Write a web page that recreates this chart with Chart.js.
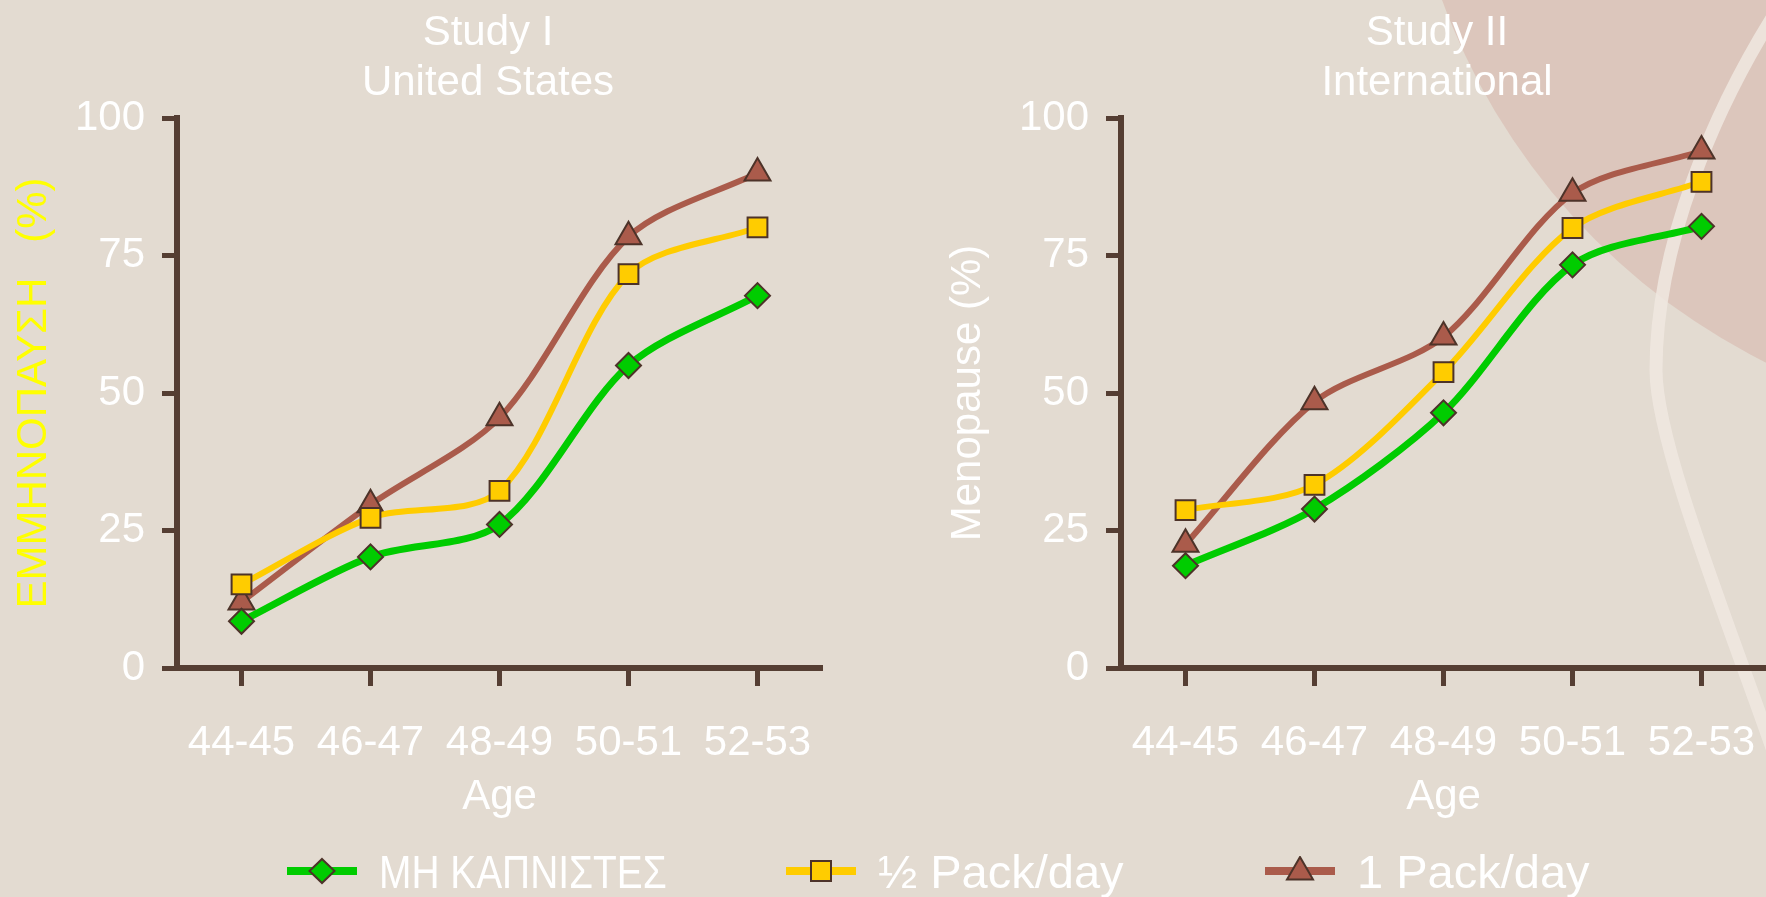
<!DOCTYPE html>
<html>
<head>
<meta charset="utf-8">
<script src="https://cdn.jsdelivr.net/npm/chart.js@4.4.1/dist/chart.umd.min.js"></script>
<style>
  html, body { margin: 0; padding: 0; }
  body {
    width: 1766px; height: 897px; overflow: hidden; position: relative;
    background: #e3dbd1;
    font-family: "Liberation Sans", Arial, sans-serif;
  }
  canvas { position: absolute; top: 0; }
  #bg { left: 0; }
  #chartLeft { left: 0; }
  #chartRight { left: 940px; }
  .title {
    position: absolute; top: 6px; width: 600px;
    color: #fff; font-size: 42px; line-height: 50.4px; text-align: center;
  }
  .item {
    position: absolute; top: 841px; height: 60px;
    display: flex; align-items: center; white-space: nowrap;
  }
  .item span { color: #fff; font-size: 47px; line-height: 1; margin-left: 22px; display: inline-block; }
  /* the greek label is set in a narrow face in the original */
  .item span.greek { transform: scaleX(0.827); transform-origin: left center; }
</style>
</head>
<body>
<canvas id="bg" width="1766" height="897"></canvas>
<canvas id="chartLeft" width="976" height="897"></canvas>
<canvas id="chartRight" width="994" height="897"></canvas>
<div class="title" style="left:188px">Study I<br>United States</div>
<div class="title" style="left:1137px">Study II<br>International</div>
<div id="legend"></div>

<script>
// data

const ages = ['44-45', '46-47', '48-49', '50-51', '52-53'];
const yTicks = [0, 25, 50, 75, 100];
const seriesNames = ['ΜΗ ΚΑΠΝΙΣΤΕΣ', '½ Pack/day', '1 Pack/day'];

// Study I - United States
const usNonSmokers = [8.5, 20.2, 26.1, 55.0, 67.7];
const usHalfPack   = [15.2, 27.3, 32.2, 71.6, 80.1];
const usOnePack    = [12.0, 29.7, 45.5, 78.4, 90.0];

// Study II - International
const intNonSmokers = [18.6, 28.9, 46.4, 73.3, 80.3];
const intHalfPack   = [28.7, 33.3, 53.8, 80.0, 88.4];
const intOnePack    = [22.5, 48.4, 60.2, 86.3, 94.0];

// styles
const colors = ['#00cc00', '#ffcc00', '#aa5b4b'];
const pointStyles = ['rectRot', 'rect', 'triangle'];
const pointSizes = [12.5, 14, 15];
const lineWidths = [7, 6, 6];
const axisColor = '#553e33';
const markerEdge = '#4d3329';

Chart.defaults.font.family = '"Liberation Sans", Arial, sans-serif';
Chart.defaults.color = '#ffffff';

function drawBackground(){
  const ctx = document.getElementById('bg').getContext('2d');
  ctx.fillStyle = '#e3dbd1';
  ctx.fillRect(0, 0, 1766, 897);

  // pink disc in the top right corner
  ctx.fillStyle = '#dcc6bc';
  ctx.beginPath();
  ctx.arc(2060, -226, 658, 0, Math.PI * 2);
  ctx.fill();

  // pale swoosh
  ctx.strokeStyle = 'rgba(240,232,225,0.85)';
  ctx.lineWidth = 13;
  ctx.beginPath();
  ctx.moveTo(1790, -10);
  ctx.bezierCurveTo(1710, 110, 1656, 250, 1656, 370);
  ctx.bezierCurveTo(1656, 450, 1740, 650, 1790, 800);
  ctx.stroke();
}

function makeChart(id, yTitle, yTitleColor, values, box){

  return new Chart(document.getElementById(id), {
    type: 'line',
    data: {
      labels: ages,
      datasets: values.map((vals, i) => ({
        label: seriesNames[i],
        data: vals,
        borderColor: colors[i],
        backgroundColor: colors[i],
        borderWidth: lineWidths[i],
        pointStyle: pointStyles[i],
        pointRadius: pointSizes[i],
        pointHoverRadius: pointSizes[i],
        pointBorderColor: markerEdge,
        pointBorderWidth: 2,
        tension: 0.3,
        fill: false
      }))
    },
    options: {
      responsive: false,
      animation: false,
      layout: {
        padding: { left: 0, right: box.padRight, top: 118, bottom: 67 }
      },
      plugins: {
        legend: { display: false },
        tooltip: { enabled: false },
        title: { display: false }
      },
      scales: {
        x: {
          offset: true,
          grid: {
            drawOnChartArea: false,
            tickLength: 18,
            tickWidth: 5,
            tickColor: axisColor
          },
          border: { color: axisColor, width: 6 },
          ticks: { color: '#ffffff', font: { size: 42 }, padding: 32 },
          title: {
            display: true,
            text: 'Age',
            color: '#ffffff',
            font: { size: 42 },
            padding: { top: 0, bottom: 7 }
          },
          afterFit: s => { s.height = 162; }
        },
        y: {
          min: 0,
          max: 100,
          afterBuildTicks: s => { s.ticks = yTicks.map(v => ({ value: v })); },
          grid: {
            drawOnChartArea: false,
            tickLength: 15,
            tickWidth: 5,
            tickColor: axisColor
          },
          border: { color: axisColor, width: 6 },
          ticks: { color: '#ffffff', font: { size: 42 }, padding: 17 },
          title: {
            display: true,
            text: yTitle,
            color: yTitleColor,
            font: { size: 42 },
            padding: { top: box.yTitlePad, bottom: 0 }
          },
          afterFit: s => { s.width = box.axisWidth; }
        }
      }
    }
  });

}

function drawLegend(){
  const legendX = [287, 786, 1265];
  const holder = document.getElementById('legend');

  seriesNames.forEach((name, i) => {
    let mark = '';
    if(pointStyles[i] === 'rectRot'){
      mark = '<polygon points="35,3 47.5,15 35,27 22.5,15"/>';
    } else if(pointStyles[i] === 'rect'){
      mark = '<rect x="25" y="5" width="20" height="20"/>';
    } else {
      mark = '<polygon points="35,1 48,23.5 22,23.5"/>';
    }

    const item = document.createElement('div');
    item.className = 'item';
    item.style.left = legendX[i] + 'px';
    item.innerHTML =
      `<svg width="70" height="30" viewBox="0 0 70 30">
         <rect x="0" y="11" width="70" height="8" fill="${colors[i]}"/>
         <g fill="${colors[i]}" stroke="${markerEdge}" stroke-width="2">${mark}</g>
       </svg>
       <span class="${i === 0 ? 'greek' : ''}">${name}</span>`;
    holder.appendChild(item);
  });
}

drawBackground();

// left: plot area 177..822
makeChart('chartLeft', 'ΕΜΜΗΝΟΠΑΥΣΗ   (%)', '#ffff00',
  [usNonSmokers, usHalfPack, usOnePack],
  { padRight: 154, axisWidth: 177, yTitlePad: 9 });

// right: plot area 1121..1766 (canvas runs past the window edge)
makeChart('chartRight', 'Menopause (%)', '#ffffff',
  [intNonSmokers, intHalfPack, intOnePack],
  { padRight: 168, axisWidth: 181, yTitlePad: 3 });

drawLegend();
</script>
</body>
</html>
